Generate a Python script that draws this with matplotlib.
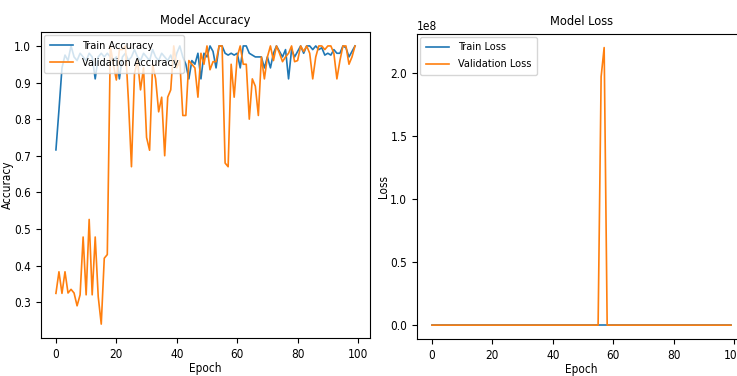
import numpy as np
import matplotlib
matplotlib.use('Agg')
import matplotlib.pyplot as plt
from matplotlib import font_manager

epochs = np.arange(100)

train_acc = [0.716, 0.825, 0.94, 0.975, 0.96, 1.0, 0.97, 0.96, 0.98, 0.97,
             0.96, 0.98, 0.97, 0.91, 0.97, 0.98, 0.97, 0.98, 0.97, 0.96,
             0.97, 0.91, 0.97, 0.98, 0.96, 0.97, 0.99, 0.97, 0.96, 0.98,
             0.97, 0.96, 0.99, 0.97, 0.96, 0.98, 0.97, 0.96, 0.975, 0.95,
             0.98, 1.0, 0.97, 0.95, 0.91, 0.96, 0.95, 0.98, 0.91, 0.98,
             0.97, 1.0, 0.985, 0.94, 1.0, 1.0, 0.98, 0.975, 0.98, 0.975,
             0.98, 0.94, 1.0, 1.0, 0.98, 0.975, 0.97, 0.97, 0.97, 0.94,
             0.97, 0.94, 0.98, 1.0, 0.985, 0.97, 0.99, 0.91, 0.99, 0.97,
             0.985, 1.0, 0.98, 1.0, 1.0, 0.99, 1.0, 0.99, 0.995, 0.975,
             0.98, 0.975, 0.99, 0.98, 0.98, 1.0, 0.995, 0.97, 0.985, 1.0]

val_acc = [0.324, 0.383, 0.324, 0.383, 0.325, 0.335, 0.325, 0.29, 0.32, 0.478,
           0.32, 0.526, 0.32, 0.478, 0.315, 0.24, 0.42, 0.43, 1.0, 0.95,
           0.907, 0.99, 0.99, 1.0, 0.85, 0.67, 0.925, 0.96, 0.88, 0.94,
           0.75, 0.715, 0.95, 0.91, 0.82, 0.86, 0.70, 0.86, 0.88, 1.0,
           0.94, 0.96, 0.81, 0.81, 0.96, 0.95, 0.94, 0.86, 0.98, 0.95,
           1.0, 0.935, 0.957, 0.957, 1.0, 1.0, 0.68, 0.67, 0.95, 0.86,
           0.97, 1.0, 0.95, 0.95, 0.80, 0.91, 0.89, 0.81, 0.97, 0.91,
           0.97, 1.0, 0.96, 1.0, 0.98, 0.957, 0.97, 0.98, 1.0, 0.957,
           0.96, 1.0, 0.985, 1.0, 0.98, 0.91, 0.97, 1.0, 1.0, 0.99,
           1.0, 1.0, 0.98, 0.91, 0.96, 1.0, 1.0, 0.95, 0.97, 1.0]

train_loss = [0.9, 0.6, 0.3, 0.2, 0.15, 0.12, 0.1, 0.1, 0.09, 0.08] + [0.08] * 90
val_loss = [2.1, 2.0, 2.3, 2.0, 2.2, 2.1, 2.5, 2.3, 2.6, 1.5,
            2.4, 1.4, 2.8, 1.6, 3.0, 3.5, 1.8, 1.9, 0.05, 0.2,
            0.3, 0.05, 0.05, 0.02, 0.5, 1.2, 0.3, 0.1, 0.4, 0.2,
            0.9, 1.1, 0.2, 0.3, 0.6, 0.5, 1.2, 0.5, 0.4, 0.02,
            0.2, 0.1, 0.7, 0.7, 0.1, 0.2, 0.2, 0.5, 0.1, 0.2,
            0.02, 0.3, 0.2, 0.2, 0.02, 0.05, 1.97e8, 2.2e8, 0.2, 0.5,
            0.1, 0.02, 0.2, 0.2, 0.7, 0.3, 0.4, 0.7, 0.1, 0.3,
            0.1, 0.02, 0.1, 0.02, 0.1, 0.2, 0.1, 0.1, 0.02, 0.2,
            0.1, 0.02, 0.05, 0.02, 0.1, 0.3, 0.1, 0.02, 0.02, 0.05,
            0.02, 0.02, 0.1, 0.3, 0.1, 0.02, 0.02, 0.2, 0.1, 0.02]

# use a condensed face if one is installed, the reference text is narrow
names = {f.name for f in font_manager.fontManager.ttflist}
if 'DejaVu Sans Condensed' in names:
    plt.rcParams['font.family'] = ['DejaVu Sans Condensed', 'DejaVu Sans']
elif 'Liberation Sans Narrow' in names:
    plt.rcParams['font.family'] = ['Liberation Sans Narrow', 'DejaVu Sans']
else:
    plt.rcParams['font.stretch'] = 'condensed'
plt.rcParams['font.size'] = 8.5

fig = plt.figure(figsize=(7.37, 3.76), dpi=100)

ax1 = fig.add_axes([0.0556, 0.101, 0.4464, 0.8138])
ax1.plot(epochs, train_acc, label='Train Accuracy', lw=1.2)
ax1.plot(epochs, val_acc, label='Validation Accuracy', lw=1.2)
ax1.set_title('Model Accuracy', fontsize=9.2)
ax1.set_xlabel('Epoch', labelpad=1)
ax1.set_ylabel('Accuracy', labelpad=0)
ax1.legend(loc='upper left', borderaxespad=0.3, handlelength=2.2,
           fontsize=7.8, labelspacing=0.65, borderpad=0.5)

ax2 = fig.add_axes([0.5658, 0.0984, 0.4464, 0.812])
ax2.plot(epochs, train_loss, label='Train Loss', lw=1.2)
ax2.plot(epochs, val_loss, label='Validation Loss', lw=1.2)
ax2.set_title('Model Loss', fontsize=9.2)
ax2.set_xlabel('Epoch', labelpad=1)
ax2.set_ylabel('Loss', labelpad=0)
ax2.legend(loc='upper left', borderaxespad=0.3, handlelength=2.2,
           fontsize=7.8, labelspacing=0.65, borderpad=0.5)

fig.savefig('out.png', dpi=100)
